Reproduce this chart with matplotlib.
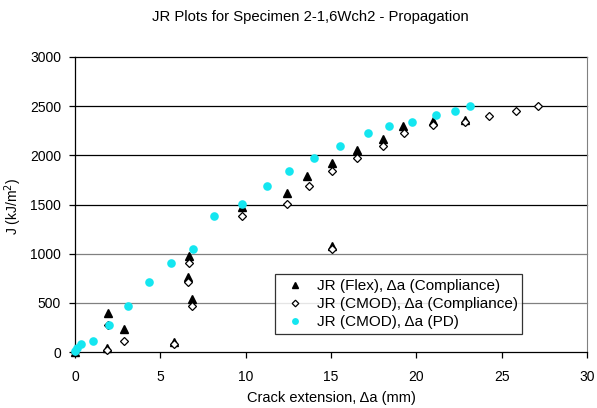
"""
JR resistance curves for specimen 2-1,6Wch2 (propagation stage).
Writes out.png.
"""
import matplotlib
matplotlib.use("Agg")
import matplotlib.pyplot as plt
from matplotlib.legend_handler import HandlerLine2D


# ── data ─────────────────────────────────────────────────────────

# JR (Flex), da from compliance
flex_da = [0.0, 1.87, 1.95, 2.85, 5.78, 6.83, 6.64, 6.68, 9.76, 12.44,
           13.61, 15.04, 15.07, 16.5, 18.06, 19.23, 20.95, 22.87]
flex_j = [0, 37, 393, 230, 101, 535, 765, 975, 1476, 1612,
          1790, 1080, 1923, 2052, 2167, 2296, 2345, 2364]

# JR (CMOD), da from compliance
cmod_da = [0.0, 1.87, 1.93, 2.85, 5.78, 6.87, 6.64, 6.68, 9.78, 12.44,
           13.71, 15.07, 15.07, 16.5, 18.06, 19.27, 20.99, 22.87,
           24.27, 25.82, 27.1]
cmod_j = [0, 20, 277, 115, 81, 470, 708, 907, 1385, 1510,
          1687, 1043, 1842, 1974, 2100, 2228, 2305, 2337,
          2405, 2452, 2499]

# JR (CMOD), da from potential drop
pd_da = [0.0, 0.1, 0.33, 1.05, 1.99, 3.12, 4.32, 5.6, 6.89, 8.16,
         9.8, 11.23, 12.54, 14.02, 15.54, 17.16, 18.41, 19.72, 21.13,
         22.26, 23.14]
pd_j = [15, 40, 81, 115, 277, 470, 708, 907, 1046, 1382,
        1510, 1690, 1842, 1976, 2100, 2228, 2303, 2344, 2406,
        2455, 2502]

x_ticks = [0, 5, 10, 15, 20, 25, 30]
y_ticks = [0, 500, 1000, 1500, 2000, 2500, 3000]

labels = [
    "JR (Flex), \u0394a (Compliance)",
    "JR (CMOD), \u0394a (Compliance)",
    "JR (CMOD), \u0394a (PD)",
]
title = "JR Plots for Specimen 2-1,6Wch2 - Propagation"
x_label = "Crack extension, \u0394a (mm)"
y_label = "J (kJ/m$^2$)"

CYAN = "#14E6F0"


class RightMarker(HandlerLine2D):
    # Excel puts the legend symbol right next to the text, with blank space on the left
    def get_xdata(self, legend, xdescent, ydescent, width, height, fontsize):
        return [-xdescent, -xdescent + width], [-xdescent + width - 0.2 * fontsize]


# ── plotting ─────────────────────────────────────────────────────

def main():
    plt.rcParams["font.family"] = ["Liberation Sans", "DejaVu Sans"]
    plt.rcParams["font.size"] = 10

    fig = plt.figure(figsize=(5.97, 4.08), dpi=100)
    ax = fig.add_axes([75 / 597, 1 - 352 / 408, 512 / 597, 295 / 408])

    # gridlines, Excel style (lower ones come out grey in the original)
    for y in y_ticks[1:]:
        col = "#808080" if y <= 1000 else "black"
        ax.axhline(y, color=col, linewidth=0.9, zorder=1)

    ax.plot(flex_da, flex_j, linestyle="none", marker="^", markersize=6,
            color="black", label=labels[0], zorder=3)
    ax.plot(cmod_da, cmod_j, linestyle="none", marker="D", markersize=4.2,
            markerfacecolor="white", markeredgecolor="black",
            markeredgewidth=0.9, label=labels[1], zorder=4)
    ax.plot(pd_da, pd_j, linestyle="none", marker="o", markersize=6.2,
            color=CYAN, markeredgewidth=0, label=labels[2], zorder=5)

    ax.set_xlim(0, 30)
    ax.set_ylim(0, 3000)
    ax.set_xticks(x_ticks)
    ax.set_yticks(y_ticks)
    ax.tick_params(direction="out", length=4, width=0.9, colors="black",
                   labelsize=10, pad=6)
    ax.tick_params(axis="x", pad=9)

    ax.spines["top"].set_visible(False)
    ax.spines["right"].set_color("#808080")
    for side in ("left", "bottom"):
        ax.spines[side].set_color("black")
        ax.spines[side].set_linewidth(0.9)
    for ln in ax.lines:
        ln.set_clip_on(False)

    ax.set_xlabel(x_label, fontsize=10.5, labelpad=5)
    fig.text(13 / 597, 1 - 206 / 408, y_label, rotation=90,
             ha="center", va="center", fontsize=10)
    fig.text(310 / 597, 1 - 17 / 408, title, ha="center", va="center",
             fontsize=10.7)

    leg = ax.legend(loc="upper left", bbox_to_anchor=(200 / 512, 78 / 295),
                    frameon=True, fancybox=False, shadow=False,
                    handlelength=2.0, handletextpad=0.4, borderpad=0.32,
                    labelspacing=0.28, borderaxespad=0, fontsize=11,
                    markerscale=0.8,
                    handler_map={plt.Line2D: RightMarker()})
    leg.get_frame().set_edgecolor("black")
    leg.get_frame().set_linewidth(0.9)
    leg.set_zorder(10)

    fig.savefig("out.png", dpi=100)
    plt.close(fig)


if __name__ == "__main__":
    main()
